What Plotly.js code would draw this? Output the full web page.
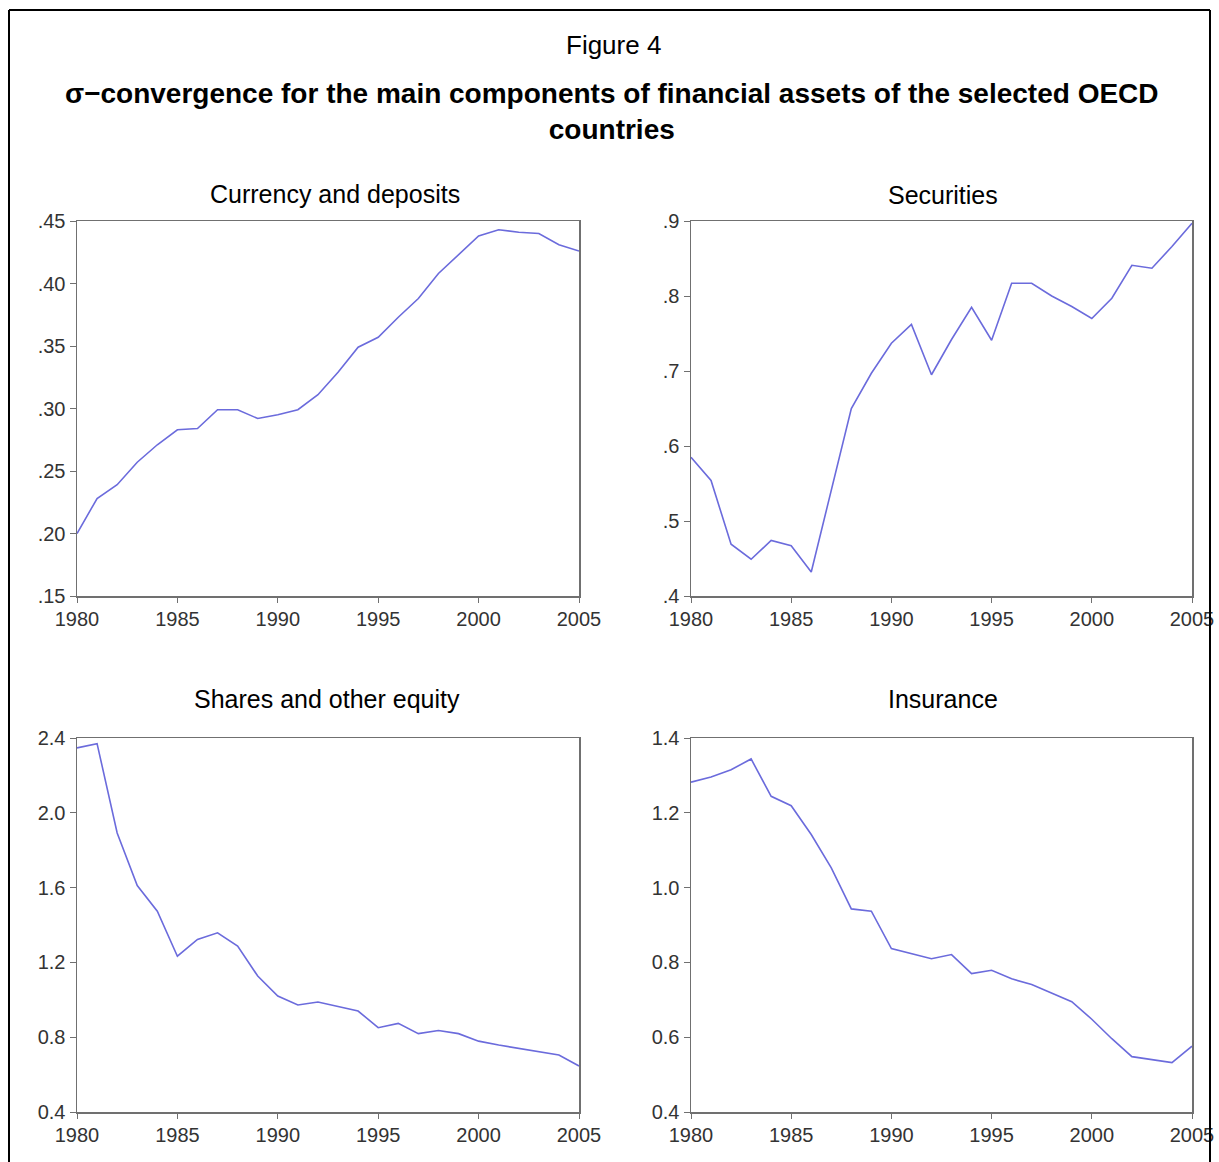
<!DOCTYPE html>
<html>
<head>
<meta charset="utf-8">
<script src="https://cdn.plot.ly/plotly-3.0.1.min.js"></script>
<style>html,body{margin:0;padding:0;background:#fff;}#chart{width:1219px;height:1162px;}</style>
</head>
<body>
<div id="chart"></div>
<script>
const years = [1980,1981,1982,1983,1984,1985,1986,1987,1988,1989,1990,1991,1992,1993,1994,1995,1996,1997,1998,1999,2000,2001,2002,2003,2004,2005];
const currencyDeposits = [0.200,0.228,0.239,0.257,0.271,0.283,0.284,0.299,0.299,0.292,0.295,0.299,0.311,0.329,0.349,0.357,0.373,0.388,0.408,0.423,0.438,0.443,0.441,0.440,0.431,0.426];
const securities = [0.585,0.554,0.469,0.449,0.474,0.467,0.432,0.541,0.650,0.697,0.737,0.762,0.695,0.742,0.785,0.741,0.817,0.817,0.800,0.786,0.770,0.797,0.841,0.837,0.866,0.897];
const sharesEquity = [2.347,2.370,1.892,1.611,1.474,1.233,1.323,1.358,1.287,1.127,1.020,0.972,0.988,0.963,0.940,0.851,0.874,0.819,0.836,0.819,0.779,0.758,0.740,0.726,0.705,0.646];
const insurance = [1.282,1.296,1.315,1.344,1.244,1.219,1.142,1.053,0.943,0.937,0.837,0.823,0.810,0.821,0.770,0.779,0.756,0.741,0.717,0.695,0.648,0.596,0.548,0.539,0.532,0.576];

const panelTitles = ["Currency and deposits","Securities","Shares and other equity","Insurance"];
const xTicks = [1980,1985,1990,1995,2000,2005];
const y1Vals = [0.15,0.20,0.25,0.30,0.35,0.40,0.45];
const y1Text = [".15",".20",".25",".30",".35",".40",".45"];
const y2Vals = [0.4,0.5,0.6,0.7,0.8,0.9];
const y2Text = [".4",".5",".6",".7",".8",".9"];
const y3Vals = [0.4,0.8,1.2,1.6,2.0,2.4];
const y3Text = ["0.4","0.8","1.2","1.6","2.0","2.4"];
const y4Vals = [0.4,0.6,0.8,1.0,1.2,1.4];
const y4Text = ["0.4","0.6","0.8","1.0","1.2","1.4"];

const W = 1219, H = 1162;
const px = v => v / W;
const py = v => 1 - v / H;
const lineColor = "#6b6bdc";
const font = "Liberation Sans, Arial, sans-serif";

const series = [currencyDeposits, securities, sharesEquity, insurance];
const traces = series.map((s, i) => ({
  x: years, y: s, type: "scatter", mode: "lines",
  line: {color: lineColor, width: 1.6},
  xaxis: i === 0 ? "x" : "x" + (i + 1),
  yaxis: i === 0 ? "y" : "y" + (i + 1),
  hoverinfo: "skip", showlegend: false
}));

function xax(d, anchor) {
  return {domain: d, anchor: anchor, range: [1980, 2005], tickvals: xTicks, ticktext: xTicks.map(String),
    showgrid: false, zeroline: false, showline: true, mirror: true, linecolor: "#707070", linewidth: 1.5,
    ticks: "outside", ticklen: 5, tickcolor: "#707070", ticklabelstandoff: -1, tickfont: {family: font, size: 20, color: "#333"}};
}
function yax(d, anchor, r, vals, text) {
  return {domain: d, anchor: anchor, range: r, tickvals: vals, ticktext: text,
    showgrid: false, zeroline: false, showline: true, mirror: true, linecolor: "#707070", linewidth: 1.5,
    ticks: "outside", ticklen: 6, tickcolor: "#707070", ticklabelstandoff: 0, tickfont: {family: font, size: 20, color: "#333"}};
}

const xL = [px(77), px(579)], xR = [px(691), px(1192)];
const yT = [py(596), py(221)], yB = [py(1112), py(738)];

const layout = {
  width: W, height: H, margin: {l: 0, r: 0, t: 0, b: 0},
  paper_bgcolor: "#fff", plot_bgcolor: "#fff",
  xaxis: xax(xL, "y"), yaxis: yax(yT, "x", [0.15, 0.45], y1Vals, y1Text),
  xaxis2: xax(xR, "y2"), yaxis2: yax(yT, "x2", [0.4, 0.9], y2Vals, y2Text),
  xaxis3: xax(xL, "y3"), yaxis3: yax(yB, "x3", [0.4, 2.4], y3Vals, y3Text),
  xaxis4: xax(xR, "y4"), yaxis4: yax(yB, "x4", [0.4, 1.4], y4Vals, y4Text),
  shapes: [
    {type: "line", xref: "paper", yref: "paper", x0: px(9), x1: px(9), y0: 0, y1: py(10), line: {color: "#000", width: 2}},
    {type: "line", xref: "paper", yref: "paper", x0: px(9), x1: px(1210), y0: py(10), y1: py(10), line: {color: "#000", width: 2}},
    {type: "line", xref: "paper", yref: "paper", x0: px(1210), x1: px(1210), y0: 0, y1: py(10), line: {color: "#000", width: 2}}
  ],
  annotations: [
    {text: "Figure 4", xref: "paper", yref: "paper", x: px(613), y: py(45), xanchor: "center", yanchor: "middle", showarrow: false, font: {family: font, size: 26, color: "#000"}},
    {text: "<b>σ−convergence for the main components of financial assets of the selected OECD<br>countries</b>", xref: "paper", yref: "paper", x: px(612), y: py(112), xanchor: "center", yanchor: "middle", showarrow: false, font: {family: font, size: 28, color: "#000"}},
    {text: panelTitles[0], xref: "paper", yref: "paper", x: px(335), y: py(194), xanchor: "center", yanchor: "middle", showarrow: false, font: {family: font, size: 25, color: "#000"}},
    {text: panelTitles[1], xref: "paper", yref: "paper", x: px(943), y: py(195), xanchor: "center", yanchor: "middle", showarrow: false, font: {family: font, size: 25, color: "#000"}},
    {text: panelTitles[2], xref: "paper", yref: "paper", x: px(327), y: py(699), xanchor: "center", yanchor: "middle", showarrow: false, font: {family: font, size: 25, color: "#000"}},
    {text: panelTitles[3], xref: "paper", yref: "paper", x: px(943), y: py(699), xanchor: "center", yanchor: "middle", showarrow: false, font: {family: font, size: 25, color: "#000"}}
  ]
};

Plotly.newPlot("chart", traces, layout, {staticPlot: true, displayModeBar: false});
</script>
</body>
</html>
